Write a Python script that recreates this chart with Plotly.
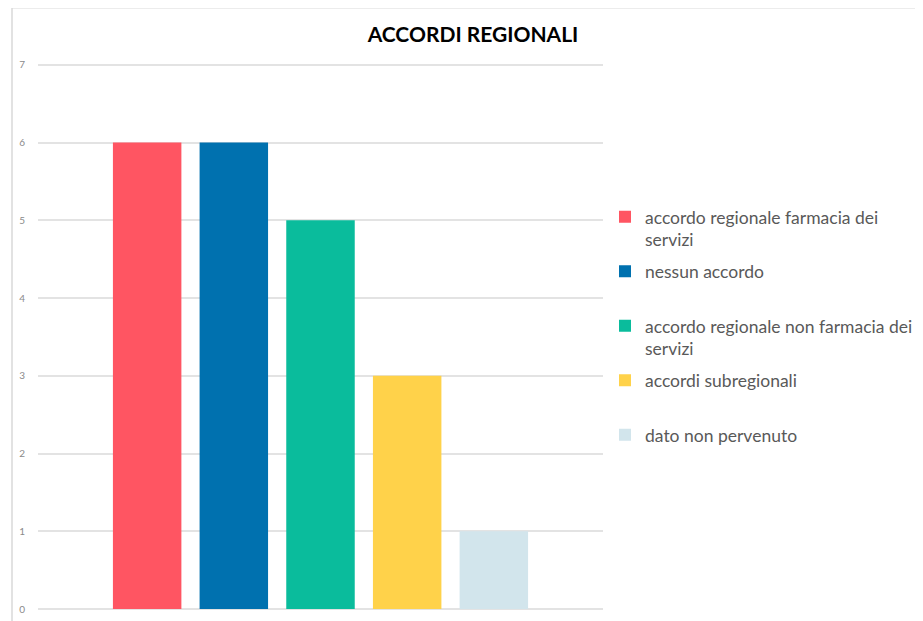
import plotly.graph_objects as go

categories = [""]
series_names = [
    "accordo regionale farmacia dei<br>servizi",
    "nessun accordo<br> ",
    "accordo regionale non farmacia dei<br>servizi",
    "accordi subregionali<br> ",
    "dato non pervenuto<br> ",
]
series_values = [6, 6, 5, 3, 1]
series_colors = ["#FF5562", "#0071AF", "#0ABC9C", "#FFD24A", "#D2E5EC"]
y_ticks = [0, 1, 2, 3, 4, 5, 6, 7]

fig = go.Figure()
for i, (name, val, col) in enumerate(zip(series_names, series_values, series_colors)):
    fig.add_trace(go.Bar(
        x=categories, y=[val], name=name, marker=dict(color=col, line=dict(width=0)),
        legendgroup=f"g{i}",
    ))

OFF = 8  # page body margin
W, H = 923 - OFF, 621 - OFF
Y_TOP = 7.1
unit = (609 - 65) / 7.0
# plot area in page pixels: x 38..603, y (65 - extra)..609
L = 38 - OFF
R = 923 - 603
T = 65 - (Y_TOP - 7) * unit - OFF
B = 621 - 609
pw = W - L - R
ph = H - T - B

def px_x(p):
    return (p - OFF - L) / pw

def px_y(p):
    return (H - B - (p - OFF)) / ph

fig.update_layout(
    width=W, height=H,
    margin=dict(l=L, r=R, t=T, b=B, autoexpand=False),
    paper_bgcolor="white", plot_bgcolor="white",
    barmode="group", bargap=0.233, bargroupgap=0.21,
    title=dict(text="<b>ACCORDI REGIONALI</b>", xref="container", yref="container",
               x=(473 - OFF) / W, y=1 - (35 - OFF) / H, xanchor="center", yanchor="middle",
               font=dict(family="Lato", size=21, color="#000000")),
    font=dict(family="Lato"),
    showlegend=True,
    legend=dict(x=px_x(605), y=px_y(199), xanchor="left", yanchor="top",
                traceorder="grouped", tracegroupgap=6, itemwidth=30,
                font=dict(family="Lato", size=17.5, color="#595959"),
                bgcolor="rgba(0,0,0,0)", valign="top"),
    xaxis=dict(showticklabels=False, showgrid=False, zeroline=False, showline=False,
               fixedrange=True),
    yaxis=dict(range=[0, Y_TOP], tickvals=y_ticks, showgrid=True, gridcolor="#E3E3E3",
               gridwidth=1.5, zeroline=True, zerolinecolor="#E3E3E3", zerolinewidth=1.5,
               showline=False, ticks="", ticklabelstandoff=12,
               tickfont=dict(family="Lato", size=10, color="#8A8A8A")),
    shapes=[
        dict(type="line", xref="paper", yref="paper", x0=px_x(12), x1=px_x(923),
             y0=px_y(8), y1=px_y(8), line=dict(color="#D9D9D9", width=1.5)),
        dict(type="line", xref="paper", yref="paper", x0=px_x(12), x1=px_x(12),
             y0=px_y(8), y1=px_y(621), line=dict(color="#D9D9D9", width=1.5)),
    ],
)

fig.write_html("out.html")
